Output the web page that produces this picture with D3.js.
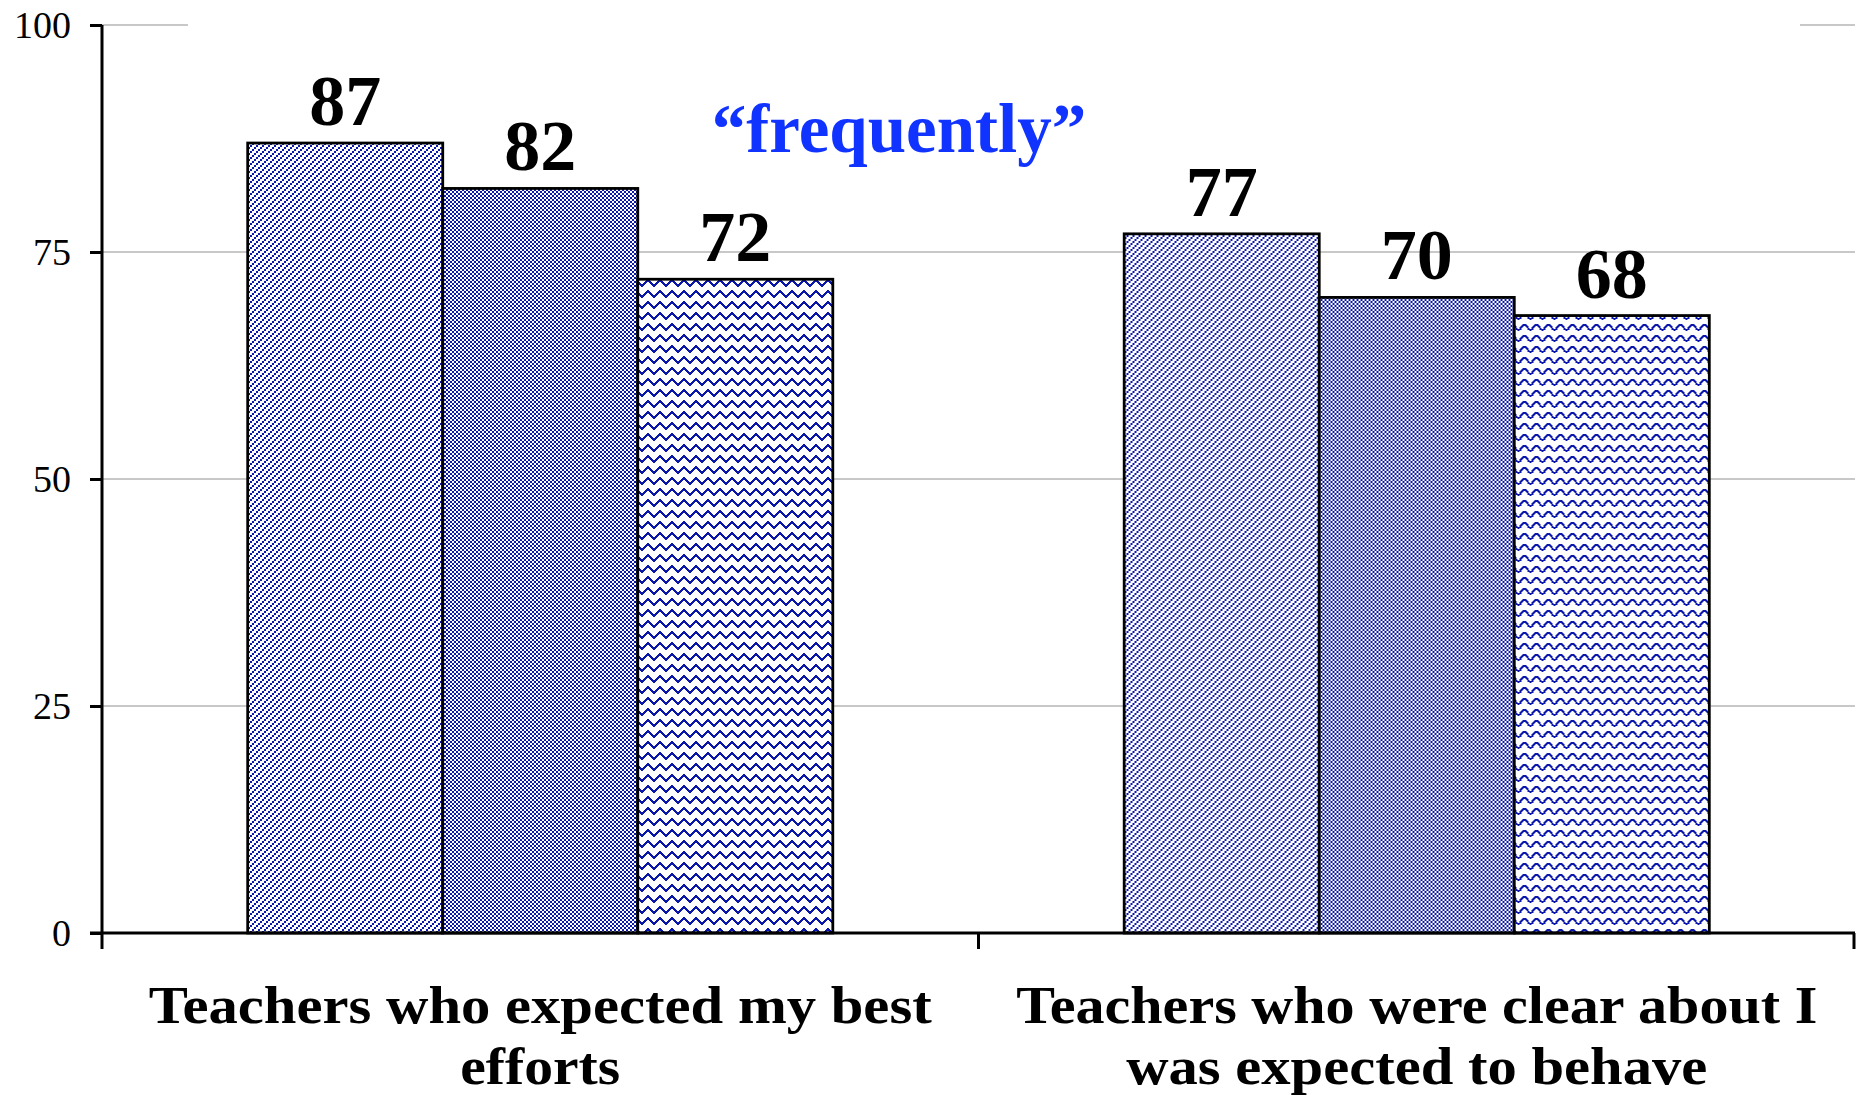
<!DOCTYPE html>
<html>
<head>
<meta charset="utf-8">
<script src="https://cdn.jsdelivr.net/npm/d3@7"></script>
<style>
  body { margin: 0; background: #fff; }
  svg { display: block; }
</style>
</head>
<body>
<svg></svg>
<script>
let categories = [
    ["Teachers who expected my best", "efforts"],
    ["Teachers who were clear about I", "was expected to behave"]
]
let series = ["s1", "s2", "s3"]
let values = [
    [87, 82, 72],
    [77, 70, 68]
]
let yTicks = [0, 25, 50, 75, 100]
let note = "\u201cfrequently\u201d"

let W = 1860, H = 1096
let margin = { top: 25, right: 5, bottom: 163, left: 102 },
    width = W - margin.left - margin.right,
    height = H - margin.top - margin.bottom

let blue = "#0b17a8"

let svg = d3.select("svg")
    .attr("width", W)
    .attr("height", H)

// fill patterns (office style hatches)
let defs = svg.append("defs")

let pDiag = defs.append("pattern")
    .attr("id", "p-diag")
    .attr("patternUnits", "userSpaceOnUse")
    .attr("width", 6).attr("height", 6)
pDiag.append("rect").attr("width", 6).attr("height", 6).attr("fill", "#fff")
;[[0, 4], [2, 2], [4, 0]].forEach(function (p) {
    pDiag.append("rect").attr("x", p[0]).attr("y", p[1])
        .attr("width", 2).attr("height", 2).attr("fill", blue)
})

let pCheck = defs.append("pattern")
    .attr("id", "p-check")
    .attr("patternUnits", "userSpaceOnUse")
    .attr("width", 4).attr("height", 4)
pCheck.append("rect").attr("width", 4).attr("height", 4).attr("fill", "#fff")
pCheck.append("rect").attr("width", 2).attr("height", 2).attr("fill", blue)
pCheck.append("rect").attr("x", 2).attr("y", 2).attr("width", 2).attr("height", 2).attr("fill", blue)

let pZig = defs.append("pattern")
    .attr("id", "p-zig")
    .attr("patternUnits", "userSpaceOnUse")
    .attr("width", 12).attr("height", 11)
pZig.append("rect").attr("width", 12).attr("height", 11).attr("fill", "#fff")
pZig.append("path")
    .attr("d", "M-1,8.5 L6,2.5 L13,8.5")
    .attr("fill", "none")
    .attr("stroke", blue)
    .attr("stroke-width", 2.2)
    .attr("shape-rendering", "crispEdges")

let pWave = defs.append("pattern")
    .attr("id", "p-wave")
    .attr("patternUnits", "userSpaceOnUse")
    .attr("width", 12).attr("height", 11)
pWave.append("rect").attr("width", 12).attr("height", 11).attr("fill", "#fff")
pWave.append("path")
    .attr("d", "M0,8 C3,8 3,2.5 6,2.5 C9,2.5 9,8 12,8")
    .attr("fill", "none")
    .attr("stroke", blue)
    .attr("stroke-width", 2.2)
    .attr("shape-rendering", "crispEdges")

function patternFor(gi, si) {
    if (si === 0) return "url(#p-diag)"
    if (si === 1) return "url(#p-check)"
    return gi === 0 ? "url(#p-zig)" : "url(#p-wave)"
}

let x0 = d3.scaleBand().domain(d3.range(categories.length)).range([0, width]).padding(0)
let x1 = d3.scaleBand().domain(series).range([0, x0.bandwidth()])
    .paddingInner(0).paddingOuter(0.747)
let y = d3.scaleLinear().domain([0, 100]).range([height, 0])

let g = svg.append("g")
    .attr("transform", "translate(" + margin.left + "," + margin.top + ")")

// gridlines
g.append("g")
    .selectAll("line")
    .data(yTicks.filter(function (d) { return d > 0 }))
    .join("line")
    .attr("x1", 0).attr("x2", width)
    .attr("y1", function (d) { return y(d) })
    .attr("y2", function (d) { return y(d) })
    .attr("stroke", "#c8c8c8")
    .attr("stroke-width", 2)

// text box area hiding the top gridline
g.append("rect")
    .attr("x", 86).attr("y", -10)
    .attr("width", 1612).attr("height", 22)
    .attr("fill", "#fff")

// bars
let groups = g.selectAll(".grp")
    .data(values)
    .join("g")
    .attr("class", "grp")
    .attr("transform", function (d, i) { return "translate(" + x0(i) + ",0)" })

groups.selectAll("rect")
    .data(function (d, gi) { return d.map(function (v, si) { return { v: v, gi: gi, si: si } }) })
    .join("rect")
    .attr("x", function (d) { return x1(series[d.si]) })
    .attr("y", function (d) { return y(d.v) })
    .attr("width", x1.bandwidth())
    .attr("height", function (d) { return height - y(d.v) })
    .attr("fill", function (d) { return patternFor(d.gi, d.si) })
    .attr("stroke", "#000")
    .attr("stroke-width", 2.8)

groups.selectAll("text")
    .data(function (d) { return d.map(function (v, si) { return { v: v, si: si } }) })
    .join("text")
    .attr("x", function (d) { return x1(series[d.si]) + x1.bandwidth() / 2 })
    .attr("y", function (d) { return y(d.v) - 18 })
    .attr("text-anchor", "middle")
    .style("font-family", "'Liberation Serif', serif")
    .style("font-weight", "bold")
    .style("font-size", "72px")
    .text(function (d) { return d.v })

// y axis
let yAxis = d3.axisLeft(y).tickValues(yTicks).tickSize(12).tickPadding(19)
let ya = g.append("g").call(yAxis)
ya.select(".domain").attr("stroke", "#000").attr("stroke-width", 3).attr("d", "M0," + height + "V0")
ya.selectAll(".tick line").attr("stroke", "#000").attr("stroke-width", 3)
ya.selectAll(".tick text")
    .style("font-family", "'Liberation Serif', serif")
    .style("font-size", "38px")
    .attr("fill", "#000")

// x axis
let xa = g.append("g").attr("transform", "translate(0," + height + ")")
xa.append("line")
    .attr("x1", -12).attr("x2", width)
    .attr("stroke", "#000").attr("stroke-width", 3)
xa.selectAll(".xt")
    .data(d3.range(categories.length + 1))
    .join("line")
    .attr("class", "xt")
    .attr("x1", function (i) { return Math.min(i * x0.step(), width - 1) })
    .attr("x2", function (i) { return Math.min(i * x0.step(), width - 1) })
    .attr("y1", 0).attr("y2", 16)
    .attr("stroke", "#000").attr("stroke-width", 3)

let labelWidths = [[783, 160], [801, 581]]
categories.forEach(function (lines, i) {
    lines.forEach(function (t, li) {
        xa.append("text")
            .attr("x", x0(i) + x0.bandwidth() / 2)
            .attr("y", 90 + li * 61)
            .attr("text-anchor", "middle")
            .attr("textLength", labelWidths[i][li])
            .attr("lengthAdjust", "spacingAndGlyphs")
            .style("font-family", "'Liberation Serif', serif")
            .style("font-weight", "bold")
            .style("font-size", "52px")
            .text(t)
    })
})

// annotation
g.append("text")
    .attr("x", 899 - margin.left)
    .attr("y", 152 - margin.top)
    .attr("text-anchor", "middle")
    .style("font-family", "'Liberation Serif', serif")
    .style("font-weight", "bold")
    .style("font-size", "69px")
    .attr("fill", "#1033ff")
    .text(note)
</script>
</body>
</html>
